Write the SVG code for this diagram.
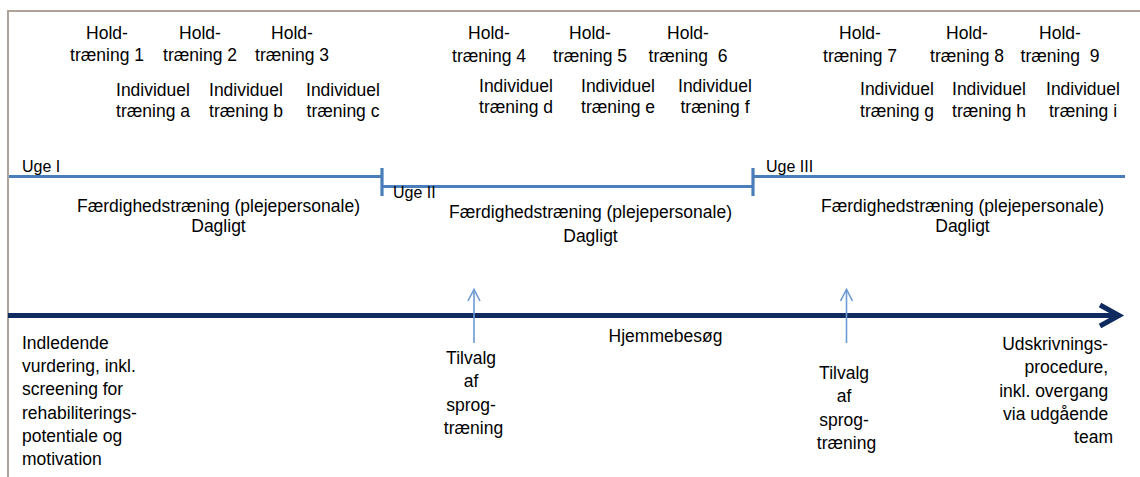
<svg xmlns="http://www.w3.org/2000/svg" width="1140" height="477" viewBox="0 0 1140 477">
  <style>
    text { font-family: "Liberation Sans", Arial, sans-serif; font-size: 17.5px; fill: #000; }
    .mid { text-anchor: middle; }
    .end { text-anchor: end; }
    .week { font-size: 16px; }
    .pre { white-space: pre; }
    .frame { stroke: #ADA397; stroke-width: 2; fill: none; }
    .phase { stroke: #4A7EBB; stroke-width: 3.2; fill: none; }
    .axis { stroke: #0F2A5E; stroke-width: 5; fill: none; }
    .pointer { stroke: #6C9AD4; stroke-width: 1.6; fill: none; }
  </style>
  <defs>
    <marker id="axisHead" markerUnits="userSpaceOnUse" viewBox="-24 -14 30 28" refX="0" refY="0" markerWidth="30" markerHeight="28" orient="auto" overflow="visible">
      <path d="M-19,-10.5 L0,0 L-19,10.5" fill="none" stroke="#0F2A5E" stroke-width="5" stroke-linejoin="miter"/>
    </marker>
    <marker id="pointerHead" markerUnits="userSpaceOnUse" viewBox="-14 -8 16 16" refX="0" refY="0" markerWidth="16" markerHeight="16" orient="auto" overflow="visible">
      <path d="M-11.5,-6 L0,0 L-11.5,6" fill="none" stroke="#6C9AD4" stroke-width="1.6"/>
    </marker>
  </defs>

  <rect width="1140" height="477" fill="#fff"/>

  <!-- frame edges -->
  <g id="frame">
    <line class="frame" x1="7" y1="11" x2="1140" y2="11"/>
    <line class="frame" x1="8" y1="10" x2="8" y2="477"/>
  </g>

  <!-- connectors: week bars, main time axis and the two language-training pointers -->
  <g id="connectors">
    <line class="phase" x1="9" y1="176.5" x2="382" y2="176.5"/>
    <line class="phase" x1="382" y1="168" x2="382" y2="196"/>
    <line class="phase" x1="382" y1="186.5" x2="753" y2="186.5"/>
    <line class="phase" x1="753" y1="168" x2="753" y2="196"/>
    <line class="phase" x1="753" y1="176.5" x2="1125" y2="176.5"/>
    <line class="axis" x1="8" y1="315.5" x2="1119" y2="315.5" marker-end="url(#axisHead)"/>
    <line class="pointer" x1="474" y1="343" x2="474" y2="289.5" marker-end="url(#pointerHead)"/>
    <line class="pointer" x1="846.5" y1="343" x2="846.5" y2="289.5" marker-end="url(#pointerHead)"/>
  </g>

  <!-- week I sessions -->
  <g id="hold1"><text class="mid"><tspan x="107" y="39">Hold-</tspan><tspan x="107" y="61">træning 1</tspan></text></g>
  <g id="hold2"><text class="mid"><tspan x="200" y="39">Hold-</tspan><tspan x="200" y="61">træning 2</tspan></text></g>
  <g id="hold3"><text class="mid"><tspan x="292" y="39">Hold-</tspan><tspan x="292" y="61">træning 3</tspan></text></g>
  <g id="indiv-a"><text class="mid"><tspan x="153" y="96">Individuel</tspan><tspan x="153" y="117">træning a</tspan></text></g>
  <g id="indiv-b"><text class="mid"><tspan x="246" y="96">Individuel</tspan><tspan x="246" y="117">træning b</tspan></text></g>
  <g id="indiv-c"><text class="mid"><tspan x="343" y="96">Individuel</tspan><tspan x="343" y="117">træning c</tspan></text></g>

  <!-- week II sessions -->
  <g id="hold4"><text class="mid"><tspan x="489" y="39">Hold-</tspan><tspan x="489" y="61.5">træning 4</tspan></text></g>
  <g id="hold5"><text class="mid"><tspan x="590" y="39">Hold-</tspan><tspan x="590" y="61.5">træning 5</tspan></text></g>
  <g id="hold6"><text class="mid pre" xml:space="preserve"><tspan x="688" y="39">Hold-</tspan><tspan x="688" y="61.5">træning  6</tspan></text></g>
  <g id="indiv-d"><text class="mid"><tspan x="516" y="92">Individuel</tspan><tspan x="516" y="112.5">træning d</tspan></text></g>
  <g id="indiv-e"><text class="mid"><tspan x="618" y="92">Individuel</tspan><tspan x="618" y="112.5">træning e</tspan></text></g>
  <g id="indiv-f"><text class="mid"><tspan x="715" y="92">Individuel</tspan><tspan x="715" y="112.5">træning f</tspan></text></g>

  <!-- week III sessions -->
  <g id="hold7"><text class="mid"><tspan x="860" y="39">Hold-</tspan><tspan x="860" y="62">træning 7</tspan></text></g>
  <g id="hold8"><text class="mid"><tspan x="967" y="39">Hold-</tspan><tspan x="967" y="62">træning 8</tspan></text></g>
  <g id="hold9"><text class="mid pre" xml:space="preserve"><tspan x="1060" y="39">Hold-</tspan><tspan x="1060" y="62">træning  9</tspan></text></g>
  <g id="indiv-g"><text class="mid"><tspan x="897" y="95">Individuel</tspan><tspan x="897" y="117">træning g</tspan></text></g>
  <g id="indiv-h"><text class="mid"><tspan x="989" y="95">Individuel</tspan><tspan x="989" y="117">træning h</tspan></text></g>
  <g id="indiv-i"><text class="mid"><tspan x="1083" y="95">Individuel</tspan><tspan x="1083" y="117">træning i</tspan></text></g>

  <!-- week labels -->
  <g id="week1"><text class="week" x="22" y="171.5">Uge I</text></g>
  <g id="week2"><text class="week" x="393" y="198">Uge II</text></g>
  <g id="week3"><text class="week" x="766" y="171.5">Uge III</text></g>

  <!-- daily skills training per week -->
  <g id="skills1"><text class="mid"><tspan x="218.5" y="212">Færdighedstræning (plejepersonale)</tspan><tspan x="218.5" y="232">Dagligt</tspan></text></g>
  <g id="skills2"><text class="mid"><tspan x="590.5" y="218">Færdighedstræning (plejepersonale)</tspan><tspan x="590.5" y="241.5">Dagligt</tspan></text></g>
  <g id="skills3"><text class="mid"><tspan x="962.5" y="212">Færdighedstræning (plejepersonale)</tspan><tspan x="962.5" y="232">Dagligt</tspan></text></g>

  <!-- milestones along the time axis -->
  <g id="intake"><text>
    <tspan x="22" y="349">Indledende</tspan>
    <tspan x="22" y="372.2">vurdering, inkl.</tspan>
    <tspan x="22" y="395.4">screening for</tspan>
    <tspan x="22" y="418.6">rehabiliterings-</tspan>
    <tspan x="22" y="441.8">potentiale og</tspan>
    <tspan x="22" y="465">motivation</tspan>
  </text></g>

  <g id="speech1"><text class="mid">
    <tspan x="473.5" y="364">Tilvalg</tspan>
    <tspan x="473.5" y="387.3">af</tspan>
    <tspan x="473.5" y="410.6">sprog-</tspan>
    <tspan x="473.5" y="434">træning</tspan>
  </text></g>

  <g id="homevisit"><text class="mid" x="665.5" y="342">Hjemmebesøg</text></g>

  <g id="speech2"><text class="mid">
    <tspan x="846.5" y="379">Tilvalg</tspan>
    <tspan x="846.5" y="402.3">af</tspan>
    <tspan x="846.5" y="425.6">sprog-</tspan>
    <tspan x="846.5" y="449">træning</tspan>
  </text></g>

  <g id="discharge"><text class="end">
    <tspan x="1113" y="350">Udskrivnings-</tspan>
    <tspan x="1113" y="373.3">procedure,</tspan>
    <tspan x="1113" y="396.6">inkl. overgang</tspan>
    <tspan x="1113" y="419.9">via udgående</tspan>
    <tspan x="1113" y="443.2">team</tspan>
  </text></g>
</svg>
